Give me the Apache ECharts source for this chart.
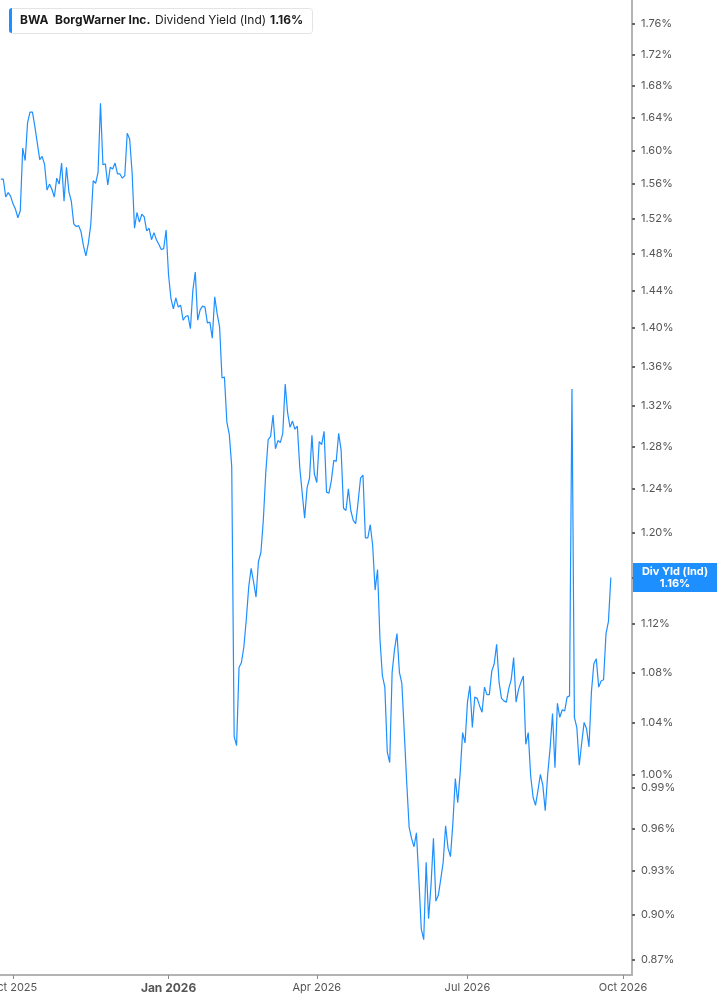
<!DOCTYPE html>
<html>
<head>
<meta charset="utf-8">
<script src="https://cdn.jsdelivr.net/npm/echarts@6/dist/echarts.min.js"></script>
<style>
html,body{margin:0;padding:0;background:#fff;}
#chart{width:717px;height:1005px;}
</style>
</head>
<body>
<div id="chart"></div>
<script>
// Trading-day dividend yield (%), one value per trading day, Sep 2025 -> Sep 2026
const yieldValues = [
1.566,1.566,1.545,1.550,1.546,1.537,1.531,1.521,1.529,1.603,
1.588,1.634,1.647,1.647,1.629,1.609,1.589,1.593,1.583,1.553,
1.560,1.554,1.545,1.567,1.560,1.585,1.540,1.580,1.551,1.540,
1.514,1.511,1.512,1.505,1.489,1.478,1.492,1.513,1.564,1.561,
1.574,1.658,1.583,1.584,1.559,1.580,1.578,1.585,1.572,1.572,
1.567,1.570,1.621,1.614,1.574,1.509,1.527,1.516,1.525,1.522,
1.506,1.509,1.496,1.504,1.496,1.491,1.485,1.486,1.507,1.457,
1.431,1.420,1.432,1.422,1.424,1.408,1.412,1.413,1.399,1.440,
1.460,1.408,1.419,1.423,1.422,1.405,1.406,1.389,1.433,1.415,
1.401,1.348,1.349,1.304,1.292,1.261,1.029,1.022,1.084,1.088,
1.101,1.124,1.152,1.168,1.156,1.143,1.174,1.182,1.211,1.255,
1.287,1.290,1.311,1.278,1.286,1.284,1.293,1.342,1.313,1.299,
1.305,1.297,1.300,1.260,1.236,1.213,1.241,1.250,1.291,1.254,
1.246,1.285,1.282,1.295,1.237,1.236,1.248,1.267,1.266,1.293,
1.277,1.222,1.220,1.240,1.220,1.211,1.208,1.228,1.250,1.253,
1.195,1.195,1.207,1.188,1.149,1.167,1.107,1.077,1.068,1.017,
1.009,1.080,1.099,1.112,1.080,1.071,1.032,0.994,0.961,0.953,
0.947,0.957,0.924,0.890,0.883,0.936,0.897,0.920,0.953,0.909,
0.913,0.924,0.936,0.962,0.946,0.940,0.964,0.997,0.979,1.001,
1.032,1.024,1.056,1.069,1.036,1.060,1.059,1.053,1.048,1.068,
1.062,1.062,1.081,1.087,1.103,1.072,1.059,1.057,1.056,1.067,
1.074,1.092,1.056,1.066,1.072,1.077,1.023,1.032,0.999,0.983,
0.977,0.988,1.000,0.992,0.973,1.000,1.020,1.047,1.005,1.055,
1.044,1.050,1.049,1.060,1.061,1.337,1.044,1.036,1.007,1.024,
1.040,1.035,1.021,1.064,1.087,1.091,1.068,1.073,1.074,1.112,
1.122,1.160
];
// trading-day index of each quarter start, and its label
const xTickIndex = [5, 69, 130, 192, 256];
const xTickLabels = ['Oct 2025', 'Jan 2026', 'Apr 2026', 'Jul 2026', 'Oct 2026'];
const yearStartLabels = ['Jan 2026'];
// y-axis tick values (%)
const yTickValues = [1.76,1.72,1.68,1.64,1.60,1.56,1.52,1.48,1.44,1.40,1.36,1.32,1.28,1.24,1.20,1.16,1.12,1.08,1.04,1.00,0.99,0.96,0.93,0.90,0.87];

const lastValue = yieldValues[yieldValues.length - 1];
const BLUE = '#1E8FFF';
const FONT = 'Inter, "Noto Sans", sans-serif';

const chart = echarts.init(document.getElementById('chart'), null, {renderer: 'canvas'});

chart.setOption({
  animation: false,
  backgroundColor: '#fff',
  textStyle: {fontFamily: FONT},
  grid: {left: 0, right: 85, top: 0, bottom: 30, containLabel: false, outerBoundsMode: 'none'},
  xAxis: {
    type: 'value',
    min: -0.35,
    max: 259.7,
    splitLine: {show: false},
    axisLine: {show: true, onZero: false, lineStyle: {color: '#b3b3b3', width: 2}},
    axisTick: {show: true, length: 4, lineStyle: {color: '#8a8a8a', width: 1}, customValues: xTickIndex},
    axisLabel: {
      customValues: xTickIndex,
      margin: 7,
      fontFamily: FONT,
      fontSize: 11,
      color: '#555',
      formatter: function (v) {
        const k = xTickIndex.indexOf(Math.round(v));
        if (k < 0) return '';
        const s = xTickLabels[k];
        return yearStartLabels.indexOf(s) >= 0 ? '{b|' + s + '}' : s;
      },
      rich: {b: {fontWeight: 'bold', fontSize: 12, color: '#555', fontFamily: FONT}}
    }
  },
  yAxis: {
    type: 'log',
    logBase: 10,
    position: 'right',
    min: 0.8598,
    max: 1.7921,
    splitLine: {show: false},
    minorSplitLine: {show: false},
    axisLine: {show: true, onZero: false, lineStyle: {color: '#b3b3b3', width: 2}},
    axisTick: {show: true, inside: false, length: 3, lineStyle: {color: '#666', width: 2}, customValues: yTickValues},
    axisLabel: {
      customValues: yTickValues,
      margin: 9,
      fontFamily: FONT,
      fontSize: 11,
      color: '#555',
      formatter: function (v) { return Number(v).toFixed(2) + '%'; }
    }
  },
  series: [{
    type: 'line',
    data: yieldValues.map(function (v, i) { return [i, v]; }),
    showSymbol: false,
    symbol: 'none',
    lineStyle: {color: BLUE, width: 1.2},
    itemStyle: {color: BLUE},
    clip: true,
    z: 3,
    markLine: {
      silent: true,
      symbol: 'none',
      animation: false,
      z: 20,
      lineStyle: {color: 'rgba(0,0,0,0)', width: 1, type: 'solid'},
      data: [{yAxis: lastValue}],
      label: {
        show: true,
        position: 'end',
        distance: 1,
        backgroundColor: BLUE,
        padding: [3, 0, 2, 0],
        formatter: function () { return '{a|Div Yld (Ind)}\n{a|' + lastValue.toFixed(2) + '%}'; },
        rich: {a: {width: 84, align: 'center', color: '#fff', fontWeight: 'bold', fontSize: 11, lineHeight: 12, fontFamily: FONT}}
      }
    }
  }],
  graphic: [
    {type: 'rect', left: 9, top: 8, z: 10, shape: {width: 303, height: 25, r: 3}, style: {fill: '#fff', stroke: '#e4e4e4', lineWidth: 1}},
    {type: 'rect', left: 9, top: 8, z: 11, shape: {width: 3, height: 25, r: [3, 0, 0, 3]}, style: {fill: BLUE}},
    {type: 'text', left: 20, top: 14, z: 12, style: {text: 'BWA', font: 'bold 12px ' + FONT, fill: '#1a1a1a'}},
    {type: 'text', left: 55, top: 14, z: 12, style: {text: 'BorgWarner Inc.', font: 'bold 12px ' + FONT, fill: '#1a1a1a'}},
    {type: 'text', left: 155, top: 14, z: 12, style: {text: 'Dividend Yield (Ind)', font: '12px ' + FONT, fill: '#1a1a1a'}},
    {type: 'text', left: 270, top: 14, z: 12, style: {text: lastValue.toFixed(2) + '%', font: 'bold 12px ' + FONT, fill: '#1a1a1a'}}
  ]
});
</script>
</body>
</html>
